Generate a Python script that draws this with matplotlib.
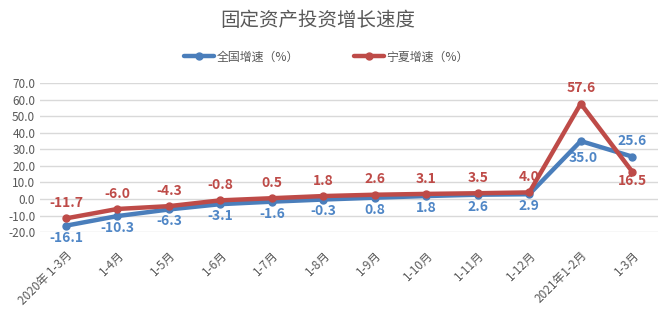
import matplotlib.pyplot as plt

plt.rcParams['font.family'] = ['Noto Sans CJK SC', 'DejaVu Sans']
plt.rcParams['axes.unicode_minus'] = False

# 数据
months = ['2020年 1-3月', '1-4月', '1-5月', '1-6月', '1-7月', '1-8月', '1-9月',
          '1-10月', '1-11月', '1-12月', '2021年1-2月', '1-3月']
national = [-16.1, -10.3, -6.3, -3.1, -1.6, -0.3, 0.8, 1.8, 2.6, 2.9, 35.0, 25.6]
ningxia = [-11.7, -6.0, -4.3, -0.8, 0.5, 1.8, 2.6, 3.1, 3.5, 4.0, 57.6, 16.5]
yticks = [-20, -10, 0, 10, 20, 30, 40, 50, 60, 70]

blue = '#4a7ebb'
red = '#be4b48'
grey = '#595959'

fig = plt.figure(figsize=(6.58, 3.22), dpi=100)
ax = fig.add_axes([0.061, 0.279, 0.939, 0.463])

x = list(range(len(months)))
ax.plot(x, national, color=blue, lw=3.2, marker='o', ms=5, label='全国增速（%）',
        solid_capstyle='round', zorder=3)
ax.plot(x, ningxia, color=red, lw=3.2, marker='o', ms=5, label='宁夏增速（%）',
        solid_capstyle='round', zorder=4)

# 数据标签：全国在下（最后一点在上），宁夏在上（最后一点在下）
for i, v in enumerate(national):
    dx, dy = 0, -3.5
    if i == 10:
        dx, dy = 2, -7
    elif i == 11:
        dy = 6
    va = 'bottom' if dy > 0 else 'top'
    ax.annotate(f'{v:.1f}', (i, v), xytext=(dx, dy), textcoords='offset points',
                ha='center', va=va, color='#4f86c6', fontsize=10, fontweight='bold')
for i, v in enumerate(ningxia):
    dy = -1.5 if i == 11 else 6
    va = 'bottom' if dy > 0 else 'top'
    ax.annotate(f'{v:.1f}', (i, v), xytext=(0, dy), textcoords='offset points',
                ha='center', va=va, color=red, fontsize=10, fontweight='bold')

ax.set_xlim(-0.5, len(months) - 0.5)
ax.set_ylim(-20, 70)
ax.set_yticks(yticks)
ax.set_yticklabels([f'{t:.1f}' for t in yticks])
ax.set_xticks(x)
ax.set_xticklabels(months, rotation=45, ha='right', rotation_mode='anchor')
ax.tick_params(axis='both', length=0, colors=grey, labelsize=8.5)
ax.tick_params(axis='x', pad=12)
ax.grid(axis='y', color='#d9d9d9', lw=1)
ax.set_axisbelow(True)
for s in ax.spines.values():
    s.set_visible(False)

fig.text(0.483, 0.935, '固定资产投资增长速度', ha='center', va='center',
         fontsize=14, color=grey)
ax.legend(loc='center', bbox_to_anchor=(0.463, 1.175), ncol=2, frameon=False,
          fontsize=8.6, labelcolor=grey, columnspacing=4.6, handlelength=2.5,
          handletextpad=0.2)

plt.savefig('out.png', dpi=100)
